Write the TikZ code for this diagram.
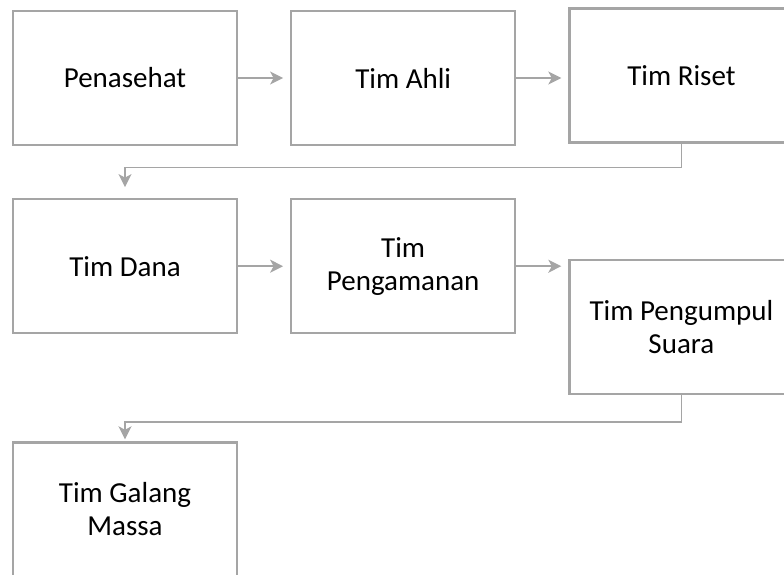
\documentclass[tikz,border=0pt]{standalone}
\usepackage{fontspec}
\setmainfont{Carlito}
\usetikzlibrary{arrows.meta, positioning}
\definecolor{linegray}{HTML}{A5A5A5}

\begin{document}
\begin{tikzpicture}[
        >={Stealth[length=13pt, width=13pt, inset=3.5pt]},
        node distance=52pt and 52pt,
        unit/.style={rectangle, draw=linegray, line width=2.2pt, fill=white, minimum width=224pt, minimum height=134pt, align=center, font=\fontsize{29}{33}\selectfont},
        link/.style={->, draw=linegray, line width=1.5pt, shorten >=7pt}
    ]
    \useasboundingbox (0,0) rectangle (784pt,574pt);

    \node[unit] (penasehat) at (125pt,496pt) {Penasehat};
    \node[unit, right=of penasehat] (ahli) {Tim Ahli};
    \node[unit, right=of ahli, yshift=2.5pt] (riset) {Tim Riset};

    \node[unit, below=of penasehat] (dana) {Tim Dana};
    \node[unit, right=of dana] (pengamanan) {Tim\\Pengamanan};
    \node[unit, right=of pengamanan, yshift=-60.5pt] (pengumpul) {Tim Pengumpul\\Suara};

    \node[unit, below=107pt of dana] (galang) {Tim Galang\\Massa};

    \draw[link] (penasehat) -- (ahli);
    \draw[link] (ahli.east) -- (ahli.east -| riset.west);
    \draw[link, shorten >=11pt] (riset.south) -- ++(0,-24pt) -| (dana.north);
    \draw[link] (dana) -- (pengamanan);
    \draw[link] (pengamanan.east) -- (pengamanan.east -| pengumpul.west);
    \draw[link, shorten >=2pt] (pengumpul.south) -- ++(0,-27pt) -| (galang.north);

    \end{tikzpicture}
\end{document}
